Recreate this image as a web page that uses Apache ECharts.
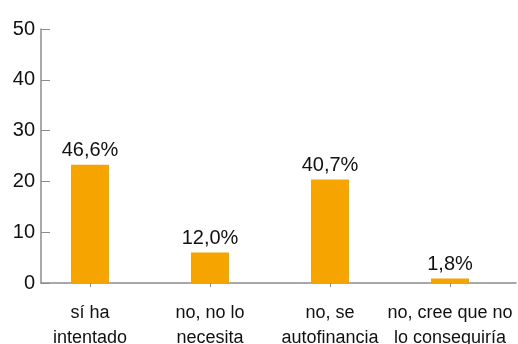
<!DOCTYPE html>
<html>
<head>
<meta charset="utf-8">
<script src="https://cdn.jsdelivr.net/npm/echarts@6/dist/echarts.min.js"></script>
<style>
  html, body { margin: 0; padding: 0; background: #fff; }
  #chart { width: 518px; height: 344px; }
</style>
</head>
<body>
<div id="chart"></div>
<script>
// Answers and their shares (%)
const categories = ['sí ha\nintentado', 'no, no lo\nnecesita', 'no, se\nautofinancia', 'no, cree que no\nlo conseguiría'];
const shares = [46.6, 12.0, 40.7, 1.8];
// The left scale reads 0–50 while the bars span 0–100 %
const scaleMax = 100;
const scaleStep = 20;
const scaleDivisor = 2;

const textFont = '"Liberation Sans", Arial, sans-serif';
const grey = '#8c8c8c';
const ink = '#111111';

const chart = echarts.init(document.getElementById('chart'));
chart.setOption({
  animation: false,
  grid: [
    { left: 30, right: 8, top: 29, bottom: 61, outerBoundsMode: 'none', containLabel: false },
    { left: 41, right: 2, top: 29, bottom: 61, outerBoundsMode: 'none', containLabel: false }
  ],
  xAxis: [
    {
      type: 'category', gridIndex: 0, data: categories,
      axisLine: { show: false },
      axisTick: { show: true, alignWithLabel: true, length: 4, lineStyle: { color: grey } },
      axisLabel: {
        color: ink, fontFamily: textFont, fontSize: 18, lineHeight: 25,
        margin: 18, interval: 0
      }
    },
    {
      type: 'value', gridIndex: 1, min: 0, max: 1,
      axisLine: { show: true, lineStyle: { color: grey, width: 1.5 } },
      axisTick: { show: false }, axisLabel: { show: false }, splitLine: { show: false }
    }
  ],
  yAxis: [
    {
      type: 'value', gridIndex: 0, min: 0, max: scaleMax, interval: scaleStep, show: false
    },
    {
      type: 'value', gridIndex: 1, min: 0, max: scaleMax, interval: scaleStep,
      axisLine: { show: true, lineStyle: { color: grey, width: 1.5 } },
      axisTick: { show: true, inside: true, length: 9, lineStyle: { color: grey } },
      splitLine: { show: false },
      axisLabel: {
        color: ink, fontFamily: textFont, fontSize: 20, margin: 6,
        padding: [0, 0, 10, 0],
        formatter: v => String(v / scaleDivisor)
      }
    }
  ],
  series: [{
    type: 'bar', xAxisIndex: 0, yAxisIndex: 0,
    data: shares, barWidth: 38,
    itemStyle: { color: '#F5A400' },
    label: {
      show: true, position: 'top', distance: 4,
      color: ink, fontFamily: textFont, fontSize: 20,
      formatter: p => p.value.toFixed(1).replace('.', ',') + '%'
    }
  }]
});
</script>
</body>
</html>
